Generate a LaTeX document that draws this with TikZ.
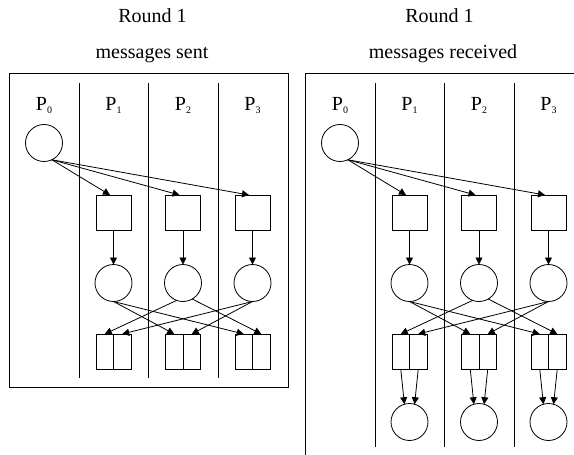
\documentclass[tikz,border=0pt]{standalone}
\usepackage{fontspec}
\setmainfont{Liberation Serif}
\usetikzlibrary{arrows.meta}
% process name with a small lowered index
\newcommand\procname[1]{P\raisebox{-3pt}{\fontsize{10}{10}\selectfont #1}}
\begin{document}
\begin{tikzpicture}[x=1pt,y=-1pt,
  every node/.style={inner sep=0pt, outer sep=0pt},
  proc/.style={circle, draw, line width=0.8pt, minimum size=37pt},
  buf/.style={rectangle, draw, line width=0.8pt, minimum width=35pt, minimum height=35pt},
  half/.style={rectangle, draw, line width=0.8pt, minimum width=17.5pt, minimum height=35pt},
  msg/.style={-{Triangle[length=7pt,width=7pt]}, line width=0.8pt},
  rule/.style={line width=0.8pt},
  title/.style={font=\fontsize{20}{24}\selectfont, anchor=base},
  lbl/.style={font=\fontsize{20}{24}\selectfont, anchor=base},
]
\useasboundingbox (0,0) rectangle (574,455);

% headings
\node[title] (t1) at (152.5,22) {Round 1};
\node[title] (t2) at (152,58) {messages sent};
\node[title] (t3) at (439.5,22) {Round 1};
\node[title] (t4) at (443,58) {messages received};

% frames
\draw[rule] (9,73) rectangle (288,387);
\draw[rule] (305,455) -- (305,73) -- (574,73);

% both panels: lanes, process labels, buffers and message exchange
\foreach \pre/\dx/\yb in {L/0/378, R/296/447} {
  \foreach \lx in {79,148,218}
    \draw[rule] ({\lx+\dx},83) -- ({\lx+\dx},\yb);
  \node[lbl] (\pre p0) at ({44+\dx},110) {\procname{0}};
  \node[proc] (\pre c0) at ({44+\dx},143) {};
  \foreach \i/\x in {1/113.5, 2/183, 3/252.5} {
    \node[lbl] (\pre p\i) at ({\x+\dx},110) {\procname{\i}};
    \node[buf] (\pre s\i) at ({\x+\dx},212.5) {};
    \node[proc] (\pre m\i) at ({\x+\dx},283) {};
    \node[half] (\pre a\i) at ({\x+\dx-8.75},351.5) {};
    \node[half] (\pre b\i) at ({\x+\dx+8.75},351.5) {};
    \draw[msg] (\pre c0.-65) -- ([xshift=-3.5pt]\pre s\i.north);
    \draw[msg] (\pre s\i.south) -- (\pre m\i.north);
  }
  \draw[msg] (\pre m1.south) -- (\pre a2.north);
  \draw[msg] (\pre m1.south) -- (\pre a3.north);
  \draw[msg] (\pre m2.-110) -- (\pre a1.north);
  \draw[msg] (\pre m2.-60) -- (\pre b3.north);
  \draw[msg] (\pre m3.south) -- (\pre b1.north);
  \draw[msg] (\pre m3.south) -- (\pre b2.north);
}

% received panel: buffers delivered to the next state
\foreach \i/\x in {1/409.5, 2/479, 3/548.5} {
  \node[proc] (Re\i) at (\x,422) {};
  \draw[msg] (Ra\i.south) -- (Re\i.106);
  \draw[msg] (Rb\i.south) -- (Re\i.74);
}
\end{tikzpicture}
\end{document}
